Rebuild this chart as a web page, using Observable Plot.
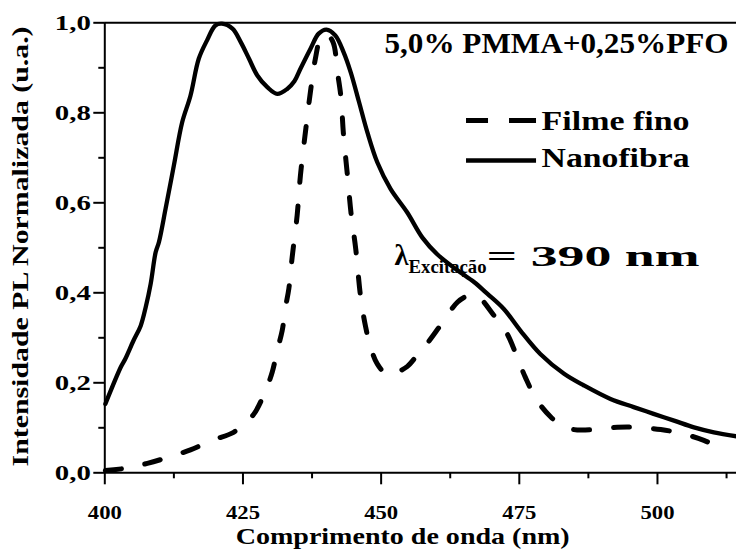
<!DOCTYPE html>
<html>
<head>
<meta charset="utf-8">
<script src="https://cdn.jsdelivr.net/npm/d3@7"></script>
<script src="https://cdn.jsdelivr.net/npm/@observablehq/plot@0.6"></script>
<style>
  html, body { margin: 0; padding: 0; background: #fff; }
</style>
</head>
<body>
<div id="chart"></div>
<script>
// Wavelength (nm) and normalized PL intensity
const nanofibraWl = [400.1,402.9,403.7,405.2,406.5,407.4,408.3,409.2,409.8,411.0,412.5,414.0,415.5,417.0,418.5,420.0,421.2,423.1,424.6,426.1,427.6,429.4,431.2,433.0,434.3,435.4,437.2,438.7,440.1,441.7,443.2,444.5,446.0,447.5,449.3,451.7,454.7,457.5,460.2,463.8,466.8,469.2,472.2,475.2,478.8,483.1,486.7,491.5,495.7,499.3,503.0,506.6,510.2,514.3];
const nanofibraVal = [0.153,0.235,0.253,0.294,0.327,0.368,0.42,0.49,0.513,0.587,0.683,0.779,0.838,0.92,0.961,0.994,0.998,0.987,0.957,0.92,0.883,0.857,0.842,0.853,0.87,0.898,0.942,0.976,0.985,0.972,0.935,0.89,0.824,0.757,0.69,0.631,0.579,0.522,0.485,0.45,0.424,0.398,0.364,0.316,0.264,0.22,0.194,0.164,0.146,0.131,0.116,0.101,0.09,0.081];

const filmeWl = [400.1,403.7,407.7,411.6,415.5,419.4,423.3,425.2,427.0,429.1,430.3,431.2,432.1,432.7,433.3,433.9,434.8,435.4,436.3,437.2,438.1,439.0,440.1,441.3,442.1,442.7,443.2,443.9,444.6,445.4,446.3,447.2,448.1,449.3,451.1,452.9,454.7,456.5,458.3,460.7,463.8,465.6,467.1,470.4,472.8,474.6,476.1,478.2,480.7,482.5,484.9,488.5,492.7,496.3,500.6,504.2,508.4,512.3];
const filmeVal = [0.005,0.01,0.021,0.035,0.051,0.072,0.09,0.109,0.131,0.183,0.224,0.272,0.316,0.368,0.409,0.479,0.572,0.661,0.757,0.846,0.92,0.964,0.975,0.957,0.89,0.838,0.75,0.661,0.572,0.498,0.39,0.324,0.279,0.242,0.218,0.224,0.236,0.261,0.287,0.327,0.379,0.393,0.396,0.35,0.309,0.257,0.212,0.161,0.124,0.107,0.096,0.096,0.101,0.101,0.096,0.088,0.072,0.05];

const xMajorTicks = [400, 425, 450, 475, 500];
const xMinorTicks = [412.5, 437.5, 462.5, 487.5, 512.5];
const yMajorTicks = [0, 0.2, 0.4, 0.6, 0.8, 1.0];
const yMinorTicks = [0.1, 0.3, 0.5, 0.7, 0.9];

const seriesNames = ["Filme fino", "Nanofibra"];
const titleText = "5,0% PMMA+0,25%PFO";
const xLabel = "Comprimento de onda (nm)";
const yLabel = "Intensidade PL Normalizada (u.a.)";

const nanofibra = nanofibraWl.map((w, i) => ({w, v: nanofibraVal[i]}));
const filme = filmeWl.map((w, i) => ({w, v: filmeVal[i]}));

const fmtY = d => d.toFixed(1).replace(".", ",");
const font = "Liberation Serif";
const txt = {fontFamily: font, fontWeight: "bold", fill: "#000"};

const plot = Plot.plot({
  width: 736,
  height: 550,
  marginLeft: 104.3,
  marginRight: 0,
  marginTop: 22.3,
  marginBottom: 77.7,
  style: {fontFamily: font, fontWeight: "bold", background: "#fff", color: "#000", overflow: "visible"},
  x: {domain: [400, 514.3]},
  y: {domain: [0, 1]},
  marks: [
    Plot.axisX(xMajorTicks, {anchor: "bottom", tickSize: 12, strokeWidth: 2, tickPadding: 21, fontSize: 19, fontFamily: font, fontWeight: "bold", tickFormat: d => String(d), label: null}),
    Plot.axisX(xMinorTicks, {anchor: "bottom", tickSize: 6, strokeWidth: 2, tickFormat: () => "", label: null}),
    Plot.axisY(yMajorTicks, {anchor: "left", tickSize: 11, strokeWidth: 2, tickPadding: 3, fontSize: 22, fontFamily: font, fontWeight: "bold", tickFormat: fmtY, label: null}),
    Plot.axisY(yMinorTicks, {anchor: "left", tickSize: 6, strokeWidth: 2, tickFormat: () => "", label: null}),
    Plot.ruleX([400], {strokeWidth: 2}),
    Plot.ruleY([0], {strokeWidth: 2}),
    Plot.ruleY([1], {strokeWidth: 2}),
    Plot.line(filme, {x: "w", y: "v", stroke: "#000", strokeWidth: 5, strokeDasharray: "16,24", strokeLinecap: "round", curve: "catmull-rom"}),
    Plot.line(nanofibra, {x: "w", y: "v", stroke: "#000", strokeWidth: 4.3, curve: "catmull-rom"}),
    // legend
    Plot.ruleY([0.783], {x1: 465.45, x2: 478.12, strokeWidth: 5, strokeDasharray: "22,21,27"}),
    Plot.ruleY([0.694], {x1: 465.45, x2: 478.12, strokeWidth: 4.5}),
    Plot.text([seriesNames[0]], {...txt, x: 479.03, y: 0.781, text: d => d, textAnchor: "start", fontSize: 27}),
    Plot.text([seriesNames[1]], {...txt, x: 479.03, y: 0.6996, text: d => d, textAnchor: "start", fontSize: 27}),
    // title
    Plot.text([titleText], {...txt, x: 450.6, y: 0.953, text: d => d, textAnchor: "start", fontSize: 29}),
    // excitation annotation
    Plot.text(["λ"], {...txt, x: 452.43, y: 0.483, text: d => d, textAnchor: "start", fontSize: 30}),
    Plot.text(["Excitação"], {...txt, x: 454.96, y: 0.456, text: d => d, textAnchor: "start", fontSize: 18}),
    Plot.text(["= 390 nm"], {...txt, x: 469.07, y: 0.481, text: d => d, textAnchor: "start", fontSize: 30}),
    // axis titles
    Plot.text([xLabel], {...txt, x: 453.9, frameAnchor: "bottom", dy: 71, text: d => d, textAnchor: "middle", fontSize: 23}),
    Plot.text([yLabel], {...txt, y: 0.503, frameAnchor: "left", dx: -84, rotate: -90, text: d => d, textAnchor: "middle", fontSize: 23})
  ]
});

// widen glyphs to match the reference's wide bold serif lettering
const targetLengths = {};
targetLengths[titleText] = 344;
targetLengths[seriesNames[0]] = 148;
targetLengths[seriesNames[1]] = 148;
targetLengths["λ"] = 14;
targetLengths["Excitação"] = 78;
targetLengths["= 390 nm"] = 213;
targetLengths[xLabel] = 334;
targetLengths[yLabel] = 440;
plot.querySelectorAll("text").forEach(t => {
  const s = t.textContent;
  let L = targetLengths[s];
  if (L == null && /^\d,\d$/.test(s)) L = 36;
  if (L == null && /^\d{3}$/.test(s)) L = 34;
  if (L != null) {
    t.setAttribute("textLength", L);
    t.setAttribute("lengthAdjust", "spacingAndGlyphs");
  }
});

document.getElementById("chart").appendChild(plot);
</script>
</body>
</html>
